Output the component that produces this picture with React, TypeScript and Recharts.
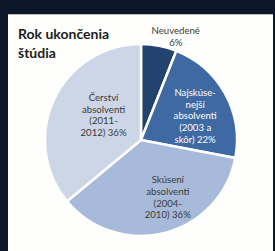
import { Cell, Pie, PieChart } from "recharts";

const categories = [
  "Neuvedené",
  "Najskúsenejší absolventi (2003 a skôr)",
  "Skúsení absolventi (2004-2010)",
  "Čerství absolventi (2011-2012)",
];
const shares = [6, 22, 36, 36];
const labelLines = [
  ["Neuvedené"],
  ["Najskúse-", "nejší", "absolventi", "(2003 a", "skôr)"],
  ["Skúsení", "absolventi", "(2004-", "2010)"],
  ["Čerství", "absolventi", "(2011-", "2012)"],
];

const sliceColors = ["#24426e", "#3e69a3", "#a8bad9", "#cdd6e7"];
const textColors = ["#3a3a3a", "#ffffff", "#3a3a3a", "#3a3a3a"];
// radius fraction + small nudges so the labels sit where Excel put them
const labelPlace = [
  { r: 1.1, dx: 15, dy: 0 },
  { r: 0.62, dx: 2, dy: 4 },
  { r: 0.62, dx: 12, dy: -1 },
  { r: 0.5, dx: 6, dy: -5 },
];

const data = categories.map((name, i) => ({ name, value: shares[i] }));

const RAD = Math.PI / 180;
const LINE_H = 11.8;

const renderLabel = (props: any) => {
  const { cx, cy, midAngle, outerRadius, index, value } = props;
  const place = labelPlace[index];
  const r = outerRadius * place.r;
  const x = cx + r * Math.cos(-midAngle * RAD) + place.dx;
  const y = cy + r * Math.sin(-midAngle * RAD) + place.dy;

  const lines = [...labelLines[index]];
  if (lines.length === 1) lines.push(`${value}%`);
  else lines[lines.length - 1] = `${lines[lines.length - 1]} ${value}%`;

  const top = y - ((lines.length - 1) / 2) * LINE_H;

  return (
    <text
      key={`lbl-${index}`}
      x={x}
      y={top}
      textAnchor="middle"
      dominantBaseline="central"
      fill={textColors[index]}
      fontSize={9.6}
      fontFamily="Lato, 'Liberation Sans', sans-serif"
    >
      {lines.map((line, i) => (
        <tspan key={i} x={x} y={top + i * LINE_H}>
          {line}
        </tspan>
      ))}
    </text>
  );
};

export default function App() {
  return (
    <div
      style={{
        position: "absolute",
        left: 0,
        top: 0,
        width: 275,
        height: 251,
        background: "#0b1629",
        overflow: "hidden",
      }}
    >
      <div
        style={{
          position: "absolute",
          left: 8,
          top: 14,
          width: 265,
          height: 237,
          background: "#fefefc",
          borderTop: "1px solid #bdbdbd",
          boxSizing: "border-box",
        }}
      >
        <div
          style={{
            position: "absolute",
            left: 10,
            top: 9,
            fontFamily: "Lato, 'Liberation Sans', sans-serif",
            fontWeight: 700,
            fontSize: 14,
            lineHeight: "19px",
            color: "#1c1c1c",
          }}
        >
          Rok ukončenia
          <br />
          štúdia
        </div>
        <PieChart width={265} height={236} style={{ position: "absolute", left: 0, top: 0 }}>
          <Pie
            data={data}
            dataKey="value"
            nameKey="name"
            cx={128}
            cy={120}
            outerRadius={96}
            startAngle={90}
            endAngle={-270}
            stroke="#ffffff"
            strokeWidth={2.5}
            label={renderLabel}
            labelLine={false}
            isAnimationActive={false}
          >
            {data.map((d, i) => (
              <Cell key={d.name} fill={sliceColors[i]} />
            ))}
          </Pie>
        </PieChart>
      </div>
    </div>
  );
}
